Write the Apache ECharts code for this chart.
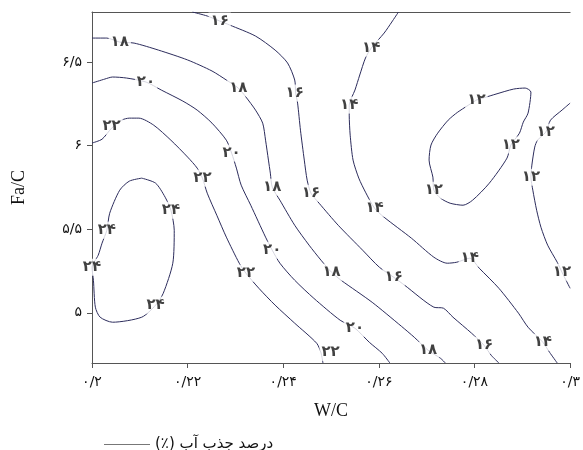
<!DOCTYPE html>
<html>
<head>
<meta charset="utf-8">
<script src="https://cdn.jsdelivr.net/npm/echarts@6/dist/echarts.min.js"></script>
<style>
html,body{margin:0;padding:0;background:#fff;}
#chart{width:583px;height:450px;}
</style>
</head>
<body>
<div id="chart"></div>
<script>
// ticks (W/C , Fa/C)
const xTicks = [0.2, 0.22, 0.24, 0.26, 0.28, 0.3];
const xTickLabels = ['۰/۲', '۰/۲۲', '۰/۲۴', '۰/۲۶', '۰/۲۸', '۰/۳'];
const yTicks = [5, 5.5, 6, 6.5];
const yTickLabels = ['۵', '۵/۵', '۶', '۶/۵'];

// contour lines as [W/C, Fa/C]
const c12a = [[0.2804,6.273],[0.2845,6.309],[0.2882,6.339],[0.2906,6.345],[0.2918,6.321],[0.2912,6.195],[0.2902,6.141],[0.2894,6.075],[0.2876,6.004],[0.2868,5.926],[0.2831,5.776],[0.2796,5.674],[0.2776,5.644],[0.2749,5.656],[0.2729,5.686],[0.2715,5.734],[0.2713,5.812],[0.2705,5.914],[0.2709,6.004],[0.2723,6.075],[0.2745,6.153],[0.2765,6.201],[0.2804,6.273]];
const c12b = [[0.3000,6.255],[0.2983,6.213],[0.2959,6.153],[0.2949,6.081],[0.2932,6.034],[0.2926,5.992],[0.2920,5.884],[0.2918,5.812],[0.2922,5.734],[0.2930,5.614],[0.2939,5.512],[0.2953,5.405],[0.2973,5.303],[0.2983,5.243],[0.3000,5.147]];
const c14 = [[0.2641,6.800],[0.2627,6.740],[0.2611,6.674],[0.2584,6.584],[0.2572,6.525],[0.2560,6.423],[0.2550,6.333],[0.2538,6.243],[0.2538,6.183],[0.2540,6.063],[0.2546,5.914],[0.2558,5.806],[0.2572,5.722],[0.2591,5.626],[0.2611,5.572],[0.2668,5.447],[0.2715,5.333],[0.2743,5.297],[0.2763,5.303],[0.2790,5.327],[0.2810,5.267],[0.2851,5.147],[0.2892,4.998],[0.2912,4.914],[0.2943,4.824],[0.2957,4.764],[0.2973,4.700]];
const c16 = [[0.2210,6.800],[0.2241,6.776],[0.2267,6.746],[0.2288,6.722],[0.2342,6.656],[0.2383,6.572],[0.2409,6.495],[0.2424,6.393],[0.2426,6.315],[0.2430,6.255],[0.2436,6.093],[0.2444,5.914],[0.2450,5.794],[0.2458,5.716],[0.2475,5.656],[0.2515,5.524],[0.2566,5.375],[0.2601,5.273],[0.2631,5.213],[0.2654,5.165],[0.2715,5.034],[0.2735,5.028],[0.2755,4.974],[0.2794,4.878],[0.2820,4.806],[0.2835,4.746],[0.2851,4.700]];
const c18 = [[0.2000,6.644],[0.2031,6.644],[0.2058,6.620],[0.2088,6.614],[0.2139,6.572],[0.2200,6.513],[0.2251,6.447],[0.2281,6.393],[0.2306,6.345],[0.2322,6.291],[0.2342,6.213],[0.2357,6.135],[0.2363,6.033],[0.2369,5.914],[0.2373,5.836],[0.2377,5.752],[0.2393,5.674],[0.2424,5.524],[0.2454,5.405],[0.2479,5.315],[0.2501,5.243],[0.2521,5.195],[0.2586,5.063],[0.2647,4.920],[0.2674,4.854],[0.2703,4.776],[0.2729,4.728],[0.2739,4.700]];
const c20 = [[0.2000,6.375],[0.2027,6.399],[0.2043,6.411],[0.2072,6.405],[0.2113,6.381],[0.2145,6.333],[0.2190,6.267],[0.2220,6.213],[0.2251,6.135],[0.2281,6.033],[0.2292,5.956],[0.2302,5.866],[0.2312,5.764],[0.2332,5.644],[0.2363,5.453],[0.2377,5.375],[0.2393,5.297],[0.2424,5.195],[0.2464,5.087],[0.2519,4.956],[0.2550,4.908],[0.2580,4.824],[0.2607,4.758],[0.2623,4.700]];
const c22 = [[0.2000,6.016],[0.2021,6.039],[0.2041,6.105],[0.2062,6.153],[0.2078,6.165],[0.2098,6.165],[0.2129,6.123],[0.2165,6.033],[0.2200,5.932],[0.2220,5.866],[0.2231,5.806],[0.2241,5.716],[0.2261,5.584],[0.2281,5.453],[0.2308,5.297],[0.2322,5.237],[0.2349,5.147],[0.2383,5.046],[0.2424,4.938],[0.2470,4.818],[0.2479,4.760],[0.2483,4.700]];
const c24 = [[0.2104,5.806],[0.2133,5.776],[0.2153,5.692],[0.2165,5.614],[0.2172,5.494],[0.2169,5.297],[0.2149,5.117],[0.2133,5.046],[0.2104,4.974],[0.2043,4.944],[0.2017,4.974],[0.2007,5.034],[0.2003,5.195],[0.2000,5.273],[0.2013,5.345],[0.2021,5.417],[0.2031,5.494],[0.2037,5.596],[0.2058,5.734],[0.2078,5.788],[0.2104,5.806]];

// where the level numbers sit
const lbl12 = [[0.2804,6.273],[0.2876,6.004],[0.2715,5.734],[0.2949,6.081],[0.2918,5.812],[0.2983,5.243]];
const lbl14 = [[0.2584,6.584],[0.2538,6.243],[0.2591,5.626],[0.2790,5.327],[0.2943,4.824]];
const lbl16 = [[0.2267,6.746],[0.2424,6.315],[0.2458,5.716],[0.2631,5.213],[0.2820,4.806]];
const lbl18 = [[0.2058,6.620],[0.2306,6.345],[0.2377,5.752],[0.2501,5.243],[0.2703,4.776]];
const lbl20 = [[0.2113,6.381],[0.2292,5.956],[0.2377,5.375],[0.2550,4.908]];
const lbl22 = [[0.2041,6.117],[0.2231,5.806],[0.2322,5.237],[0.2499,4.764]];
const lbl24 = [[0.2165,5.614],[0.2031,5.494],[0.2000,5.273],[0.2133,5.046]];

const legendName = '\u202Bدرصد جذب آب (٪)\u202C';
const lineColor = '#2c2c5c';

const levels = [
  {text: '۱۲', lines: [c12a, c12b], labels: lbl12},
  {text: '۱۴', lines: [c14], labels: lbl14},
  {text: '۱۶', lines: [c16], labels: lbl16},
  {text: '۱۸', lines: [c18], labels: lbl18},
  {text: '۲۰', lines: [c20], labels: lbl20},
  {text: '۲۲', lines: [c22], labels: lbl22},
  {text: '۲۴', lines: [c24], labels: lbl24}
];

const series = [];
levels.forEach(function (lv) {
  lv.lines.forEach(function (pts) {
    series.push({
      name: legendName,
      type: 'line',
      data: pts,
      smooth: 0.25,
      symbol: 'none',
      silent: true,
      z: 2,
      color: lineColor,
      lineStyle: {color: lineColor, width: 1}
    });
  });
});
levels.forEach(function (lv) {
  series.push({
    type: 'scatter',
    data: lv.labels,
    symbolSize: 0,
    silent: true,
    z: 5,
    label: {
      show: true,
      position: 'inside',
      formatter: lv.text,
      color: '#111',
      fontSize: 15,
      fontWeight: 'bold',
      fontFamily: 'DejaVu Sans',
      backgroundColor: '#fff',
      padding: [1, 2]
    }
  });
});

function pickLabel(v, ticks, labels) {
  for (let i = 0; i < ticks.length; i++) {
    if (Math.abs(ticks[i] - v) < 1e-6) return labels[i];
  }
  return '';
}

const chart = echarts.init(document.getElementById('chart'));
const option = {
  animation: false,
  grid: {left: 92, right: 0, top: 12, bottom: 87},
  legend: {
    data: [{name: legendName, icon: 'rect', itemStyle: {color: '#777'}}],
    left: 99,
    top: 432,
    itemWidth: 46,
    itemHeight: 1,
    itemGap: 6,
    textStyle: {fontFamily: 'DejaVu Sans', fontSize: 15, color: '#111'}
  },
  xAxis: [{
    type: 'value',
    min: 0.2,
    max: 0.3,
    interval: 0.02,
    name: 'W/C',
    nameLocation: 'middle',
    nameGap: 39,
    nameTextStyle: {fontFamily: 'Liberation Serif', fontSize: 18, color: '#111'},
    splitLine: {show: false},
    axisLine: {lineStyle: {color: '#555'}},
    axisTick: {length: 5, lineStyle: {color: '#555'}},
    axisLabel: {
      margin: 12,
      fontFamily: 'DejaVu Sans',
      fontSize: 14,
      color: '#111',
      formatter: function (v) { return pickLabel(v, xTicks, xTickLabels); }
    }
  }, {
    type: 'value',
    position: 'top',
    min: 0.2,
    max: 0.3,
    splitLine: {show: false},
    axisLine: {show: true, lineStyle: {color: '#555'}},
    axisTick: {show: false},
    axisLabel: {show: false}
  }],
  yAxis: {
    type: 'value',
    min: 4.7,
    max: 6.8,
    name: 'Fa/C',
    nameLocation: 'middle',
    nameRotate: 90,
    nameGap: 64,
    nameTextStyle: {fontFamily: 'Liberation Serif', fontSize: 18, color: '#111'},
    splitLine: {show: false},
    axisLine: {show: true, lineStyle: {color: '#555'}},
    axisTick: {show: true, length: 5, customValues: yTicks, lineStyle: {color: '#555'}},
    axisLabel: {
      margin: 10,
      customValues: yTicks,
      fontFamily: 'DejaVu Sans',
      fontSize: 14,
      color: '#111',
      formatter: function (v) { return pickLabel(v, yTicks, yTickLabels); }
    }
  },
  series: series
};
chart.setOption(option);
</script>
</body>
</html>
